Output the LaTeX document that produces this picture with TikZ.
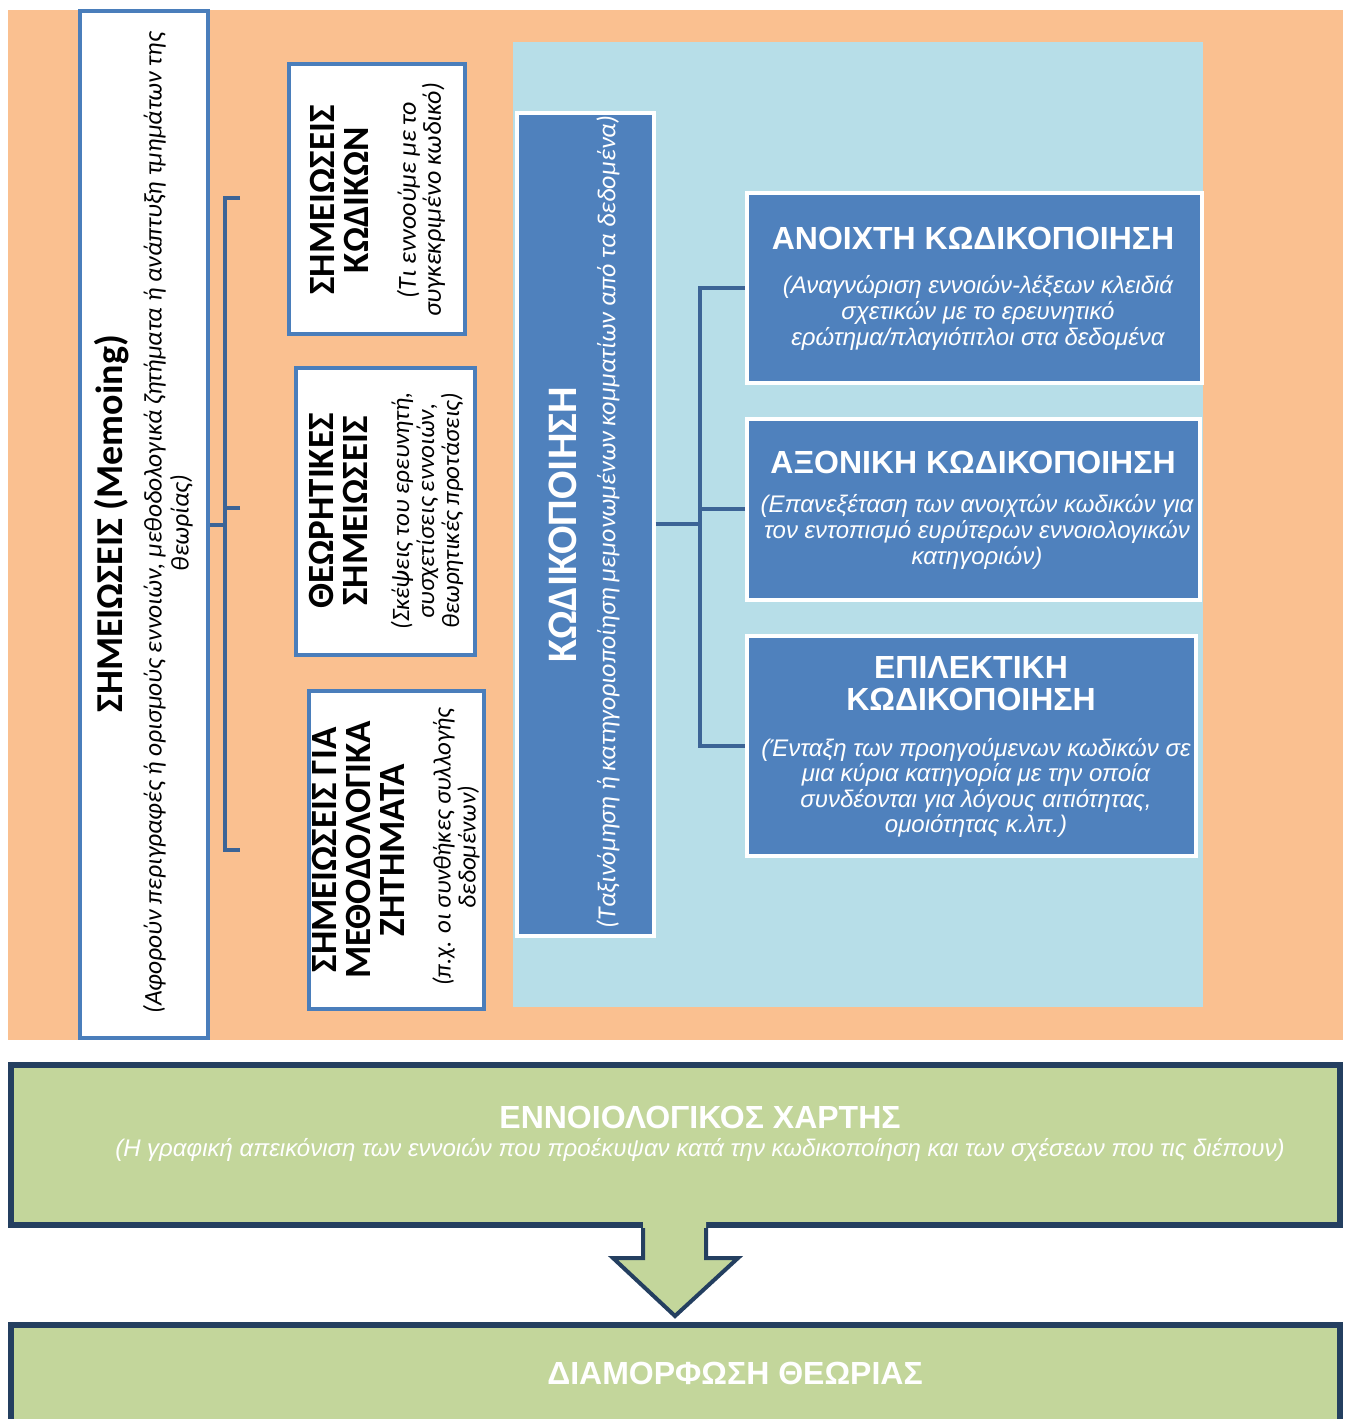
\documentclass[tikz,border=0pt]{standalone}
\usepackage{fontspec}
\setmainfont{Carlito}
\newfontfamily\calf{Carlito}
\newfontfamily\arialf{Liberation Sans}
\definecolor{bgorange}{HTML}{FAC090}
\definecolor{bglblue}{HTML}{B7DEE8}
\definecolor{bordblue}{HTML}{4A7EBB}
\definecolor{codblue}{HTML}{4F81BD}
\definecolor{connblue}{HTML}{3C6496}
\definecolor{boxgreen}{HTML}{C3D69B}
\definecolor{navy}{HTML}{243F60}
\tikzset{
  memobox/.style={draw=bordblue, line width=4pt, fill=white, inner sep=0pt},
  bluebox/.style={draw=white, line width=4pt, fill=codblue, inner sep=0pt},
  greenbox/.style={draw=navy, line width=6pt, fill=boxgreen, inner sep=0pt},
  conn/.style={draw=connblue, line width=4pt},
  vtitle/.style={rotate=90, align=center, inner sep=0pt, font=\calf\bfseries\fontsize{37}{34}\selectfont},
  vsub/.style={rotate=90, align=center, inner sep=0pt, font=\calf\itshape\fontsize{26}{26}\selectfont},
  htitle/.style={align=center, inner sep=0pt, text=white, font=\arialf\bfseries\fontsize{32}{32}\selectfont},
  hsub/.style={align=center, inner sep=0pt, text=white, font=\arialf\itshape\fontsize{24}{26}\selectfont},
}
\begin{document}
\begin{tikzpicture}[x=1pt,y=-1pt]
\useasboundingbox (0,0) rectangle (1350,1419);
% backgrounds
\fill[bgorange] (8,10) rectangle (1343,1040);
\fill[bglblue] (513,42) rectangle (1203,1007);

% memo boxes
\node[memobox, minimum width=128, minimum height=1027] (memo) at (144,524.5) {};
\node[memobox, minimum width=176, minimum height=270] (c1) at (377,199) {};
\node[memobox, minimum width=179, minimum height=287] (c2) at (385.5,511.5) {};
\node[memobox, minimum width=175, minimum height=318] (c3) at (396.5,850) {};

\node[vtitle, font=\calf\bfseries\fontsize{38}{38}\selectfont] (memoT) at (112,524) {ΣΗΜΕΙΩΣΕΙΣ (Memoing)};
\node[vsub, font=\calf\itshape\fontsize{25.5}{27}\selectfont] (memoS) at (168,523) {(Αφορούν περιγραφές ή ορισμούς εννοιών, μεθοδολογικά ζητήματα ή ανάπτυξη τμημάτων της\\θεωρίας)};

\node[vtitle] (c1T) at (339,200) {ΣΗΜΕΙΩΣΕΙΣ\\ΚΩΔΙΚΩΝ};
\node[vsub, font=\calf\itshape\fontsize{26}{25}\selectfont] (c1S) at (421,200) {(Τι εννοούμε με το\\συγκεκριμένο κωδικό)};

\node[vtitle] (c2T) at (338,511) {ΘΕΩΡΗΤΙΚΕΣ\\ΣΗΜΕΙΩΣΕΙΣ};
\node[vsub, font=\calf\itshape\fontsize{25}{25}\selectfont] (c2S) at (427,511) {(Σκέψεις του ερευνητή,\\συσχετίσεις εννοιών,\\θεωρητικές προτάσεις)};

\node[vtitle] (c3T) at (358,850) {ΣΗΜΕΙΩΣΕΙΣ ΓΙΑ\\ΜΕΘΟΔΟΛΟΓΙΚΑ\\ΖΗΤΗΜΑΤΑ};
\node[vsub, font=\calf\itshape\fontsize{25}{25}\selectfont] (c3S) at (456,847) {(π.χ. οι συνθήκες συλλογής\\δεδομένων)};

% bracket
\coordinate (b1) at (240,198);
\coordinate (b2) at (240,508);
\coordinate (b3) at (240,850);
\coordinate (bm) at (225,524.5);
\draw[conn] (b1) -- ++(-15,0) |- (b3);
\draw[conn] (b2) -- ++(-15,0);
\draw[conn] (memo.east) -- (bm);

% coding box
\node[bluebox, minimum width=137, minimum height=823] (cod) at (585,524) {};
\node[vtitle, text=white, font=\calf\bfseries\fontsize{42}{42}\selectfont] (codT) at (563,525) {ΚΩΔΙΚΟΠΟΙΗΣΗ};
\node[vsub, text=white] (codS) at (608,522) {(Ταξινόμηση ή κατηγοριοποίηση μεμονωμένων κομματίων από τα δεδομένα)};

% right boxes
\node[bluebox, minimum width=455, minimum height=190] (o1) at (974,287.5) {};
\node[bluebox, minimum width=453, minimum height=181] (o2) at (973,509) {};
\node[bluebox, minimum width=449, minimum height=220] (o3) at (971,745.5) {};

\node[htitle] (o1T) at (973,238) {ΑΝΟΙΧΤΗ ΚΩΔΙΚΟΠΟΙΗΣΗ};
\node[hsub] (o1S) at (978,313) {(Αναγνώριση εννοιών-λέξεων κλειδιά\\σχετικών με το ερευνητικό\\ερώτημα/πλαγιότιτλοι στα δεδομένα};
\node[htitle] (o2T) at (973,462) {ΑΞΟΝΙΚΗ ΚΩΔΙΚΟΠΟΙΗΣΗ};
\node[hsub] (o2S) at (977,532) {(Επανεξέταση των ανοιχτών κωδικών για\\τον εντοπισμό ευρύτερων εννοιολογικών\\κατηγοριών)};
\node[htitle] (o3T) at (971,684) {ΕΠΙΛΕΚΤΙΚΗ\\ΚΩΔΙΚΟΠΟΙΗΣΗ};
\node[hsub, font=\arialf\itshape\fontsize{24}{25.5}\selectfont] (o3S) at (976,788) {(Ένταξη των προηγούμενων κωδικών σε\\μια κύρια κατηγορία με την οποία\\συνδέονται για λόγους αιτιότητας,\\ομοιότητας κ.λπ.)};

% connectors
\coordinate (j) at (700,524);
\draw[conn] (cod.east) -- (j);
\draw[conn] (o1.west) -| (j) |- (o3.west);
\draw[conn] (o2.west) -- (o2.west -| j);

% bottom boxes
\node[greenbox, minimum width=1329, minimum height=160] (A) at (675.5,1145) {};
\node[greenbox, minimum width=1329, minimum height=110] (B) at (675.5,1380) {};
\node[htitle, font=\arialf\bfseries\fontsize{32}{32}\selectfont] (AT) at (700,1117) {ΕΝΝΟΙΟΛΟΓΙΚΟΣ ΧΑΡΤΗΣ};
\node[hsub, font=\arialf\itshape\fontsize{24}{24}\selectfont] (AS) at (700,1150) {(Η γραφική απεικόνιση των εννοιών που προέκυψαν κατά την κωδικοποίηση και των σχέσεων που τις διέπουν)};
\node[htitle, font=\arialf\bfseries\fontsize{32}{32}\selectfont] (BT) at (735,1373) {ΔΙΑΜΟΡΦΩΣΗ ΘΕΩΡΙΑΣ};

% block arrow
\fill[boxgreen] (643,1221) -- (643,1258) -- (613,1258) -- (675,1316) -- (738,1258) -- (706,1258) -- (706,1221) -- cycle;
\draw[navy, line width=4pt, line join=miter] (643,1228) -- (643,1258) -- (613,1258) -- (675,1316) -- (738,1258) -- (706,1258) -- (706,1228);
\end{tikzpicture}
\end{document}
